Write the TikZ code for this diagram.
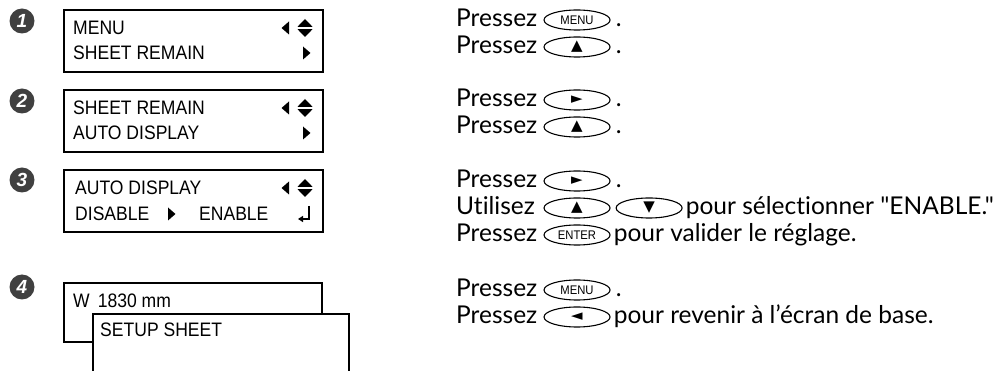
\documentclass[tikz,border=0pt]{standalone}
\usepackage{fontspec}
\setmainfont{Lato}[Ligatures={NoCommon,TeXOff}]
\newfontfamily\lcdfont{Liberation Sans}[FakeStretch=0.9]
\newfontfamily\numfont{Liberation Sans}
\newfontfamily\symfont{DejaVu Sans}
\usetikzlibrary{shapes.geometric, arrows.meta, positioning}

\begin{document}
\begin{tikzpicture}[
    x=1pt, y=-1pt,
    num/.style={circle, fill=black!75, minimum size=25pt, inner sep=0pt, text=white, font=\numfont\bfseries\itshape\fontsize{19}{19}\selectfont},
    panel/.style={draw, line width=1.8pt},
    lcd/.style={anchor=west, inner sep=0pt, font=\lcdfont\fontsize{19.5}{19.5}\selectfont},
    key/.style={ellipse, draw, line width=1.1pt, minimum width=66pt, minimum height=20pt, inner sep=0pt, font=\lcdfont\fontsize{12.5}{12.5}\selectfont},
    tri/.style={key, font=\symfont\fontsize{15}{15}\selectfont},
    txt/.style={anchor=base west, inner sep=0pt, font=\fontsize{24.5}{24.5}\selectfont},
    leftarr/.pic={\fill (3,-6.5) -- (3,6.5) -- (-4.5,0) -- cycle;},
    rightarr/.pic={\fill (-3,-6.5) -- (-3,6.5) -- (4.5,0) -- cycle;},
    updown/.pic={\fill (-7.5,-1.2) -- (7.5,-1.2) -- (0,-9) -- cycle; \fill (-7.5,1.2) -- (7.5,1.2) -- (0,9) -- cycle;}
]
\useasboundingbox (0,0) rectangle (1002,371);

% Step markers
\node[num] (m1) at (22,21) {1};
\node[num] (m2) at (22,101) {2};
\node[num] (m3) at (22,180) {3};
\node[num] (m4) at (22,287) {4};

% Panel 1
\draw[panel] (64,10) rectangle (323,72);
\node[lcd] (p1a) at (73,28) {MENU};
\node[lcd] (p1b) at (73,53) {SHEET REMAIN};
\pic at (286,28) {leftarr};
\pic at (305,28) {updown};
\pic at (306,53) {rightarr};

% Panel 2
\draw[panel] (64,90) rectangle (323,152);
\node[lcd] (p2a) at (73,108) {SHEET REMAIN};
\node[lcd] (p2b) at (73,133) {AUTO DISPLAY};
\pic at (286,108) {leftarr};
\pic at (305,108) {updown};
\pic at (306,133) {rightarr};

% Panel 3
\draw[panel] (64,170) rectangle (323,232);
\node[lcd] (p3a) at (75,188) {AUTO DISPLAY};
\node[lcd] (p3b) at (75,214) {DISABLE};
\node[lcd] (p3c) at (199,214) {ENABLE};
\pic at (286,188) {leftarr};
\pic at (305,188) {updown};
\pic at (171,214) {rightarr};
\draw[line width=1.3pt, -{Triangle[length=5pt, width=6pt]}] (309,206) -- (309,219) -- (298,219);

% Panel 4 (two screens)
\draw[panel] (64,283) rectangle (322,342);
\node[lcd] (p4a) at (73,301) {W\hspace{8pt}1830 mm};
\draw[panel, fill=white] (93,372) -- (93,314) -- (349,314) -- (349,372);
\node[lcd] (p4b) at (100,330) {SETUP SHEET};

% Instructions, step 1
\node[txt] (t1) at (456,26.5) {Pressez};
\node[key] (k1) at (577,20) {MENU};
\node[txt, xshift=5pt] (d1) at (k1.east |- t1.base) {.};
\node[txt] (t2) at (456,53.5) {Pressez};
\node[tri] (k2) at (577,47) {▲};
\node[txt, xshift=5pt] (d2) at (k2.east |- t2.base) {.};

% Step 2
\node[txt] (t3) at (456,106.5) {Pressez};
\node[tri] (k3) at (577,100) {►};
\node[txt, xshift=5pt] (d3) at (k3.east |- t3.base) {.};
\node[txt] (t4) at (456,133.5) {Pressez};
\node[tri] (k4) at (577,127) {▲};
\node[txt, xshift=5pt] (d4) at (k4.east |- t4.base) {.};

% Step 3
\node[txt] (t5) at (456,187.5) {Pressez};
\node[tri] (k5) at (577,181) {►};
\node[txt, xshift=5pt] (d5) at (k5.east |- t5.base) {.};
\node[txt] (t6) at (456,214.5) {Utilisez};
\node[tri] (k6) at (577,208) {▲};
\node[tri, right=5pt of k6] (k6b) {▼};
\node[txt, xshift=3pt] (d6) at (k6b.east |- t6.base) {pour sélectionner "ENABLE."};
\node[txt] (t7) at (456,241.5) {Pressez};
\node[key] (k7) at (577,235) {ENTER};
\node[txt, xshift=3pt] (d7) at (k7.east |- t7.base) {pour valider le réglage.};

% Step 4
\node[txt] (t8) at (456,296.5) {Pressez};
\node[key] (k8) at (577,290) {MENU};
\node[txt, xshift=5pt] (d8) at (k8.east |- t8.base) {.};
\node[txt] (t9) at (456,323.5) {Pressez};
\node[tri] (k9) at (577,317) {◄};
\node[txt, xshift=3pt] (d9) at (k9.east |- t9.base) {pour revenir à l’écran de base.};

\end{tikzpicture}
\end{document}
